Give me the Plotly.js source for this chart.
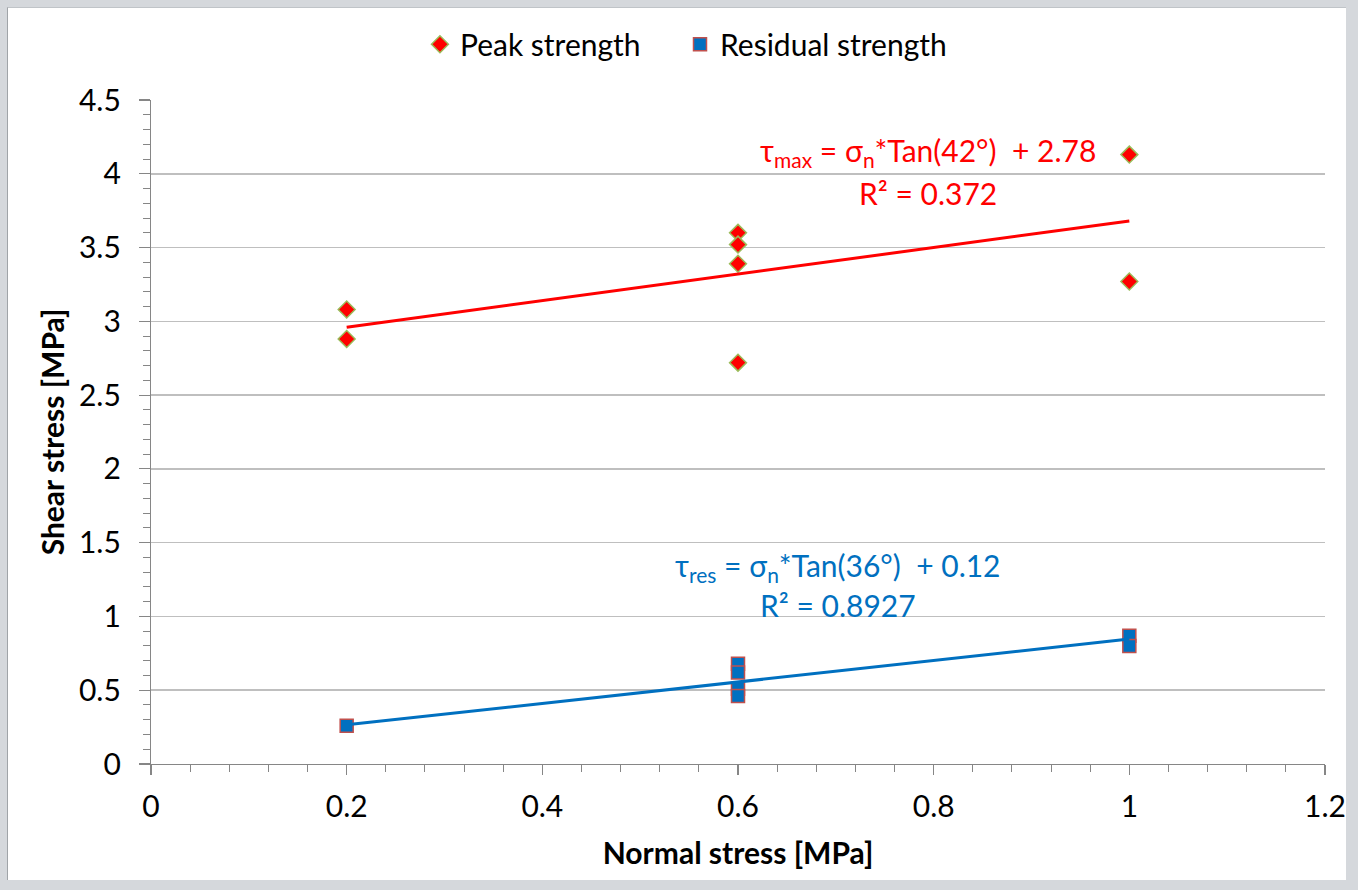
<!DOCTYPE html>
<html><head><meta charset="utf-8">
<script src="https://cdn.plot.ly/plotly-3.0.1.min.js"></script>
<style>
html,body{margin:0;padding:0;background:#d5d8dc;width:1358px;height:890px;overflow:hidden;}
#frame{position:absolute;left:7px;top:7px;width:1338px;height:872px;background:#fff;border-left:1px solid #a0a4a8;border-top:1px solid #c0c4c8;}
#chart{position:absolute;left:0;top:0;width:1358px;height:890px;}
</style></head>
<body>
<div id="frame"></div>
<div id="chart"></div>
<script>
// Data
const peakX = [0.2, 0.2, 0.6, 0.6, 0.6, 0.6, 1.0, 1.0];
const peakY = [3.08, 2.88, 3.60, 3.52, 3.39, 2.72, 4.13, 3.27];
const resX = [0.2, 0.6, 0.6, 0.6, 0.6, 1.0, 1.0];
const resY = [0.26, 0.68, 0.62, 0.51, 0.46, 0.87, 0.80];
// Fit parameters (from the chart labels): slope = tan(angle), intercept
const peakFit = {angleDeg: 42, intercept: 2.78, r2: '0.372'};
const resFit = {angleDeg: 36, intercept: 0.12, r2: '0.8927'};
const fitRange = [0.2, 1.0];
const seriesNames = ['Peak strength', 'Residual strength'];

function fitLine(f){
  const m = Math.tan(f.angleDeg*Math.PI/180);
  return fitRange.map(x => m*x + f.intercept);
}

const FONT = 'Lato, "Open Sans", sans-serif';
const FS = 30;
const traces = [
  {x: peakX, y: peakY, mode: 'markers', type: 'scatter', name: seriesNames[0], legend: 'legend',
   marker: {symbol: 'diamond', size: 13, color: '#ff0000', line: {color: '#9bbb59', width: 1.5}}},
  {x: resX, y: resY, mode: 'markers', type: 'scatter', name: seriesNames[1], legend: 'legend2',
   marker: {symbol: 'square', size: 13, color: '#0070c0', line: {color: '#c0504d', width: 1.5}}},
  {x: fitRange, y: fitLine(peakFit), mode: 'lines', type: 'scatter', showlegend: false,
   line: {color: '#ff0000', width: 3}},
  {x: fitRange, y: fitLine(resFit), mode: 'lines', type: 'scatter', showlegend: false,
   line: {color: '#0070c0', width: 3}}
];

const legendBase = {orientation: 'h', y: 1.084, yanchor: 'middle', xanchor: 'left',
  font: {family: FONT, size: FS, color: '#000'}, bgcolor: 'rgba(0,0,0,0)', itemwidth: 30};

const layout = {
  width: 1358, height: 890,
  paper_bgcolor: 'rgba(0,0,0,0)', plot_bgcolor: '#ffffff',
  margin: {l: 151, r: 33, t: 100, b: 126, autoexpand: false},
  font: {family: FONT, size: FS, color: '#000'},
  showlegend: true,
  legend: Object.assign({}, legendBase, {x: 0.2291}),
  legend2: Object.assign({}, legendBase, {x: 0.4506}),
  xaxis: {range: [0, 1.2], dtick: 0.2, tick0: 0, showgrid: false, zeroline: false,
          showline: true, linecolor: '#868686', linewidth: 1.2,
          ticks: 'outside', ticklen: 10, tickcolor: '#868686', tickwidth: 1.2,
          ticklabelstandoff: 6,
          tickfont: {family: FONT, size: FS, color: '#000'},
          minor: {dtick: 0.04, ticks: 'outside', ticklen: 7, tickcolor: '#868686', tickwidth: 1, showgrid: false},
          title: {text: '<b>Normal stress [MPa]</b>', font: {family: FONT, size: FS, color: '#000'}, standoff: 20}},
  yaxis: {range: [0, 4.5], dtick: 0.5, tick0: 0, showgrid: true, gridcolor: '#bfbfbf', gridwidth: 1.5,
          zeroline: false, showline: true, linecolor: '#868686', linewidth: 1.2,
          ticks: 'outside', ticklen: 11, tickcolor: '#868686', tickwidth: 1.2,
          ticklabelstandoff: 12,
          tickfont: {family: FONT, size: FS, color: '#000'},
          minor: {dtick: 0.1, ticks: 'outside', ticklen: 7, tickcolor: '#868686', tickwidth: 1, showgrid: false},
          title: {text: '<b>Shear stress [MPa]</b>', font: {family: FONT, size: FS, color: '#000'}, standoff: 5}},
  annotations: [
    {x: 0.794, y: 4.15, xref: 'x', yref: 'y', showarrow: false,
     text: 'τ<sub>max</sub> = σ<sub>n</sub>*Tan(' + peakFit.angleDeg + '°)  + ' + peakFit.intercept.toFixed(2),
     font: {family: FONT, size: FS, color: '#ff0000'}},
    {x: 0.794, y: 3.87, xref: 'x', yref: 'y', showarrow: false,
     text: 'R² = ' + peakFit.r2, font: {family: FONT, size: FS, color: '#ff0000'}},
    {x: 0.702, y: 1.335, xref: 'x', yref: 'y', showarrow: false,
     text: 'τ<sub>res</sub> = σ<sub>n</sub>*Tan(' + resFit.angleDeg + '°)  + ' + resFit.intercept.toFixed(2),
     font: {family: FONT, size: FS, color: '#0070c0'}},
    {x: 0.702, y: 1.075, xref: 'x', yref: 'y', showarrow: false,
     text: 'R² = ' + resFit.r2, font: {family: FONT, size: FS, color: '#0070c0'}}
  ]
};
Plotly.newPlot('chart', traces, layout, {displayModeBar: false, staticPlot: true});
</script>
</body></html>
